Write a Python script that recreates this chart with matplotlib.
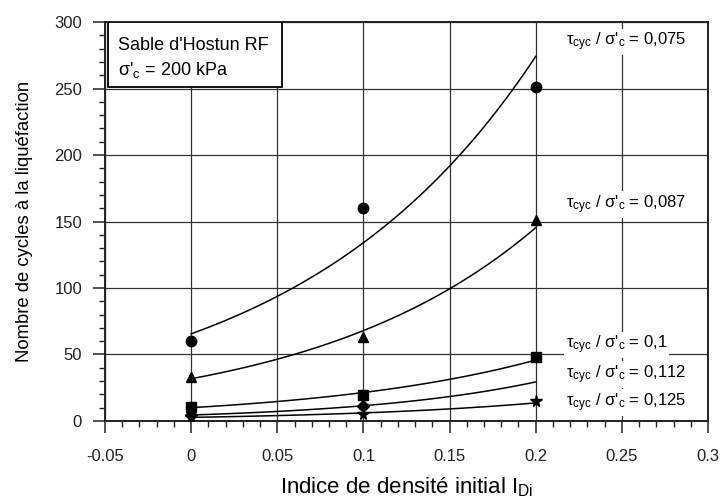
import numpy as np
import matplotlib
matplotlib.use('Agg')
from matplotlib import pyplot as plt
from matplotlib.patches import Rectangle
from matplotlib.ticker import MultipleLocator, FixedLocator, FixedFormatter

plt.rcParams['font.family'] = ['Liberation Sans', 'DejaVu Sans']
plt.rcParams['mathtext.fontset'] = 'custom'
plt.rcParams['mathtext.rm'] = 'Liberation Sans'
plt.rcParams['mathtext.it'] = 'Liberation Sans:italic'

# data
ratios = ['0,075', '0,087', '0,1', '0,112', '0,125']
x_075 = [0.0, 0.1, 0.2]
n_075 = [60, 160, 251]
x_087 = [0.0, 0.1, 0.2]
n_087 = [33, 63, 151]
x_100 = [0.0, 0.1, 0.2]
n_100 = [10.5, 19.5, 48]
x_112 = [0.0, 0.1]
n_112 = [4.5, 11.5]
x_125 = [0.0, 0.1, 0.2]
n_125 = [3, 5, 15]
markers = ['o', '^', 's', 'D', '*']
label_y = [285, 163, 57, 35, 14]

xtick_vals = [-0.05, 0, 0.05, 0.1, 0.15, 0.2, 0.25, 0.3]
xtick_labels = ['-0.05', '0', '0.05', '0.1', '0.15', '0.2', '0.25', '0.3']

series = [(x_075, n_075), (x_087, n_087), (x_100, n_100), (x_112, n_112), (x_125, n_125)]

fig = plt.figure(figsize=(7.21, 5.01), dpi=100)
ax = fig.add_axes([0.1456, 0.1597, 0.8364, 0.7963])

xfit = np.linspace(0, 0.2, 100)
msizes = {'o': 7.5, '^': 7.5, 's': 6.8, 'D': 6, '*': 8.5}
for (xs, ns), m in zip(series, markers):
    # exponential trend line (log-linear least squares)
    b, a = np.polyfit(xs, np.log(ns), 1)
    ax.plot(xfit, np.exp(a + b * xfit), color='black', lw=1.1, zorder=3)
    ax.plot(xs, ns, linestyle='none', marker=m, color='black',
            markersize=msizes[m], zorder=4)

for r, ly in zip(ratios, label_y):
    ax.text(0.2175, ly, "τ$_{\\rm cyc}$ / σ'$_{\\rm c}$ = " + r, ha='left', va='center',
            fontsize=12, zorder=5,
            bbox=dict(facecolor='white', edgecolor='none', pad=1.5))

# info box in the top left corner
ax.add_patch(Rectangle((0.005, 0.837), 0.289, 0.163, transform=ax.transAxes,
                       facecolor='white', edgecolor='black', lw=1.3, zorder=6))
ax.text(-0.0425, 282, "Sable d'Hostun RF", ha='left', va='center', fontsize=13, zorder=7)
ax.text(-0.0425, 264, "σ'$_{\\rm c}$ = 200 kPa", ha='left', va='center', fontsize=13, zorder=7)

ax.set_xlim(-0.05, 0.3)
ax.set_ylim(0, 300)
ax.xaxis.set_major_locator(FixedLocator(xtick_vals))
ax.xaxis.set_major_formatter(FixedFormatter(xtick_labels))
ax.xaxis.set_minor_locator(MultipleLocator(0.01))
ax.yaxis.set_major_locator(MultipleLocator(50))
ax.yaxis.set_minor_locator(MultipleLocator(10))
ax.tick_params(which='major', direction='out', length=8.5, width=1.1, labelsize=12, colors='#222222')
ax.tick_params(which='minor', direction='out', length=4.5, width=1.0, colors='#222222')
ax.tick_params(axis='x', which='major', pad=12)
ax.tick_params(axis='y', which='major', pad=8)
ax.grid(True, which='major', color='#333333', lw=0.9)
ax.set_axisbelow(True)
for s in ax.spines.values():
    s.set_linewidth(1.4)
    s.set_color('#222222')

ax.set_xlabel('Indice de densité initial I$_{\\rm Di}$', fontsize=16, labelpad=8)
ax.set_ylabel('Nombre de cycles à la liquéfaction', fontsize=13.3, labelpad=15)

fig.savefig('out.png', dpi=100)
